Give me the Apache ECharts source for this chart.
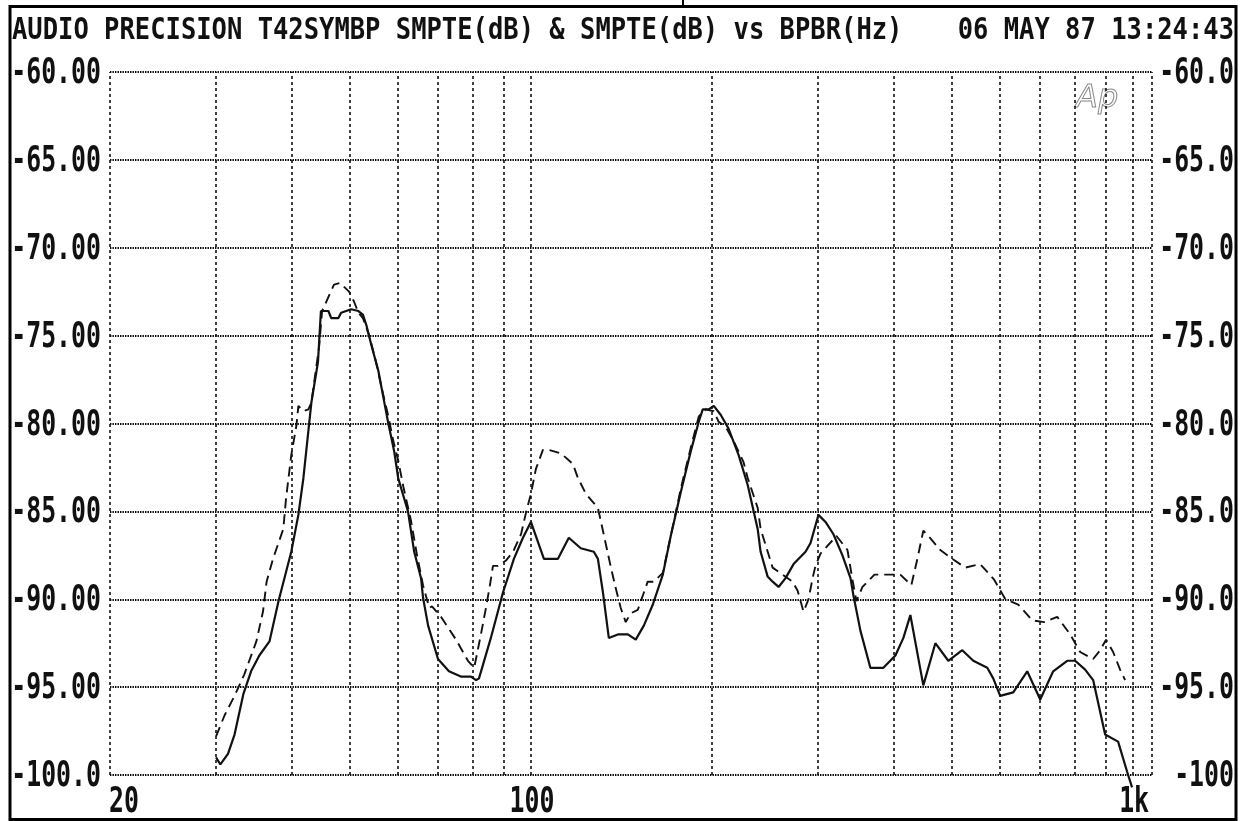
<!DOCTYPE html>
<html><head><meta charset="utf-8">
<script src="https://cdn.jsdelivr.net/npm/echarts@6/dist/echarts.min.js"></script>
<style>html,body{margin:0;padding:0;background:#fff;}#c{width:1244px;height:821px;}</style>
</head><body><div id="c"></div>
<script>
// ---- texts ----
const titleText = 'AUDIO PRECISION T42SYMBP SMPTE(dB) & SMPTE(dB) vs BPBR(Hz)';
const dateText = '06 MAY 87 13:24:43';
const logoText = 'Ap';

// ---- axes ----
const xMinHz = 20;
const xMaxHz = 1075;
const yMin = -100, yMax = -60, yStep = 5;
const yTicks = [-60, -65, -70, -75, -80, -85, -90, -95, -100];
const yLabelsLeft = ['-60.00', '-65.00', '-70.00', '-75.00', '-80.00', '-85.00', '-90.00', '-95.00', '-100.0'];
const yLabelsRight = ['-60.0', '-65.0', '-70.0', '-75.0', '-80.0', '-85.0', '-90.0', '-95.0', '-100'];
const xGridHz = [20, 30, 40, 50, 60, 70, 80, 90, 100, 200, 300, 400, 500, 600, 700, 800, 900, 1000, 1075];
const xTickHz = [20, 100, 1000];
const xTickLabels = ['20', '100', '1k'];

// ---- solid trace ----
const solidHz = [30, 30.5, 31.4, 32.2, 33.3, 34.3, 35.4, 36.8, 38.1, 40.0,
  41.1, 41.9, 43.2, 44.3, 44.8, 46.1, 46.6, 47.9, 48.4, 50.3,
  51.7, 52.6, 53.3, 54.3, 55.8, 56.8, 57.9, 59.3, 60.2, 60.9,
  62.5, 64.0, 65.7, 66.2, 67.5, 70.1, 73.1, 76.5, 79.5, 81.1,
  82.0, 85.8, 89.9, 93.7, 97.0, 100, 101.9, 105.1, 110.9, 115.6,
  121.0, 127.2, 129.2, 131.7, 134.7, 139.4, 144.9, 149.3, 154.0, 159.4,
  165.6, 170.7, 177.4, 184.2, 190.0, 192.9, 197.4, 201.2, 206.6, 213.0,
  221.3, 229.1, 238.0, 240.7, 247.2, 252.0, 257.8, 264.8, 273.0, 285.8,
  291.3, 300.3, 308.5, 318.0, 329.1, 339.4, 343.3, 352.6, 366.2, 384.9,
  403.0, 415.5, 426.7, 448.4, 469.5, 493.3, 520.4, 542.8, 572.6, 585.8,
  601.6, 632.4, 667.1, 701.1, 736.7, 777.2, 801.3, 832.5, 858.4, 898.6,
  944.3, 977.2, 996];
const solidDb = [-99.0, -99.4, -98.8, -97.7, -95.4, -94.1, -93.2, -92.4, -90.1, -87.3,
  -85.2, -83.1, -78.8, -76.5, -73.6, -73.6, -74.0, -74.0, -73.7, -73.5,
  -73.6, -73.8, -74.4, -75.5, -77.0, -78.4, -79.9, -81.6, -83.1, -83.7,
  -85.0, -87.3, -88.8, -89.9, -91.5, -93.4, -94.1, -94.4, -94.4, -94.6,
  -94.5, -92.2, -89.6, -87.7, -86.5, -85.6, -86.4, -87.7, -87.7, -86.5,
  -87.1, -87.3, -87.7, -89.6, -92.2, -92.0, -92.0, -92.3, -91.5, -90.3,
  -88.6, -86.4, -83.9, -81.6, -79.9, -79.2, -79.2, -79.0, -79.5, -80.3,
  -81.8, -83.5, -86.0, -87.3, -88.7, -89.0, -89.3, -88.8, -88.0, -87.3,
  -86.8, -85.2, -85.6, -86.3, -87.5, -88.8, -89.8, -91.8, -93.9, -93.9,
  -93.2, -92.2, -90.9, -94.9, -92.5, -93.5, -92.9, -93.5, -93.9, -94.5,
  -95.5, -95.3, -94.1, -95.7, -94.1, -93.5, -93.5, -94.0, -94.6, -97.7,
  -98.1, -99.8, -100.7];

// ---- dashed trace ----
const dashHz = [30, 31.0, 32.2, 33.4, 35.0, 35.9, 36.4, 37.3, 38.8, 39.2,
  40.0, 40.8, 41.1, 41.9, 42.7, 43.2, 44.5, 45.0, 47.1, 48.2,
  49.9, 50.9, 51.7, 52.6, 53.9, 55.3, 56.8, 57.9, 59.0, 60.2,
  61.4, 63.2, 64.7, 66.2, 67.8, 68.5, 70.9, 75.1, 78.6, 80.5,
  82.6, 84.2, 85.5, 86.5, 88.2, 90.9, 93.4, 96.3, 98.1, 100,
  101.9, 104.7, 107.1, 112.2, 117.4, 119.7, 123.4, 129.2, 131.7, 135.8,
  138.4, 141.0, 143.7, 146.5, 150.5, 156.3, 160.0, 165.6, 170.7, 177.4,
  184.2, 190.0, 195.1, 201.2, 205.0, 210.6, 217.1, 225.5, 229.1, 238.0,
  240.7, 252.0, 272.0, 277.2, 283.6, 289.1, 293.6, 296.9, 302.6, 321.7,
  335.5, 342.0, 347.2, 355.3, 371.9, 390.8, 410.7, 428.3, 438.3, 448.4,
  457.1, 478.5, 500.9, 526.4, 557.4, 588.3, 613.5, 644.6, 680.0, 711.8,
  748.2, 786.2, 816.8, 858.4, 881.6, 901.9, 926.5, 951.5, 969.9];
const dashDb = [-97.8, -96.6, -95.5, -94.3, -92.4, -90.7, -89.0, -87.7, -86.0, -84.3,
  -81.8, -80.1, -79.0, -79.3, -79.2, -78.8, -75.6, -73.6, -72.1, -72.0,
  -72.5, -73.1, -73.7, -74.0, -75.0, -76.5, -78.3, -79.5, -80.9, -82.1,
  -83.6, -85.5, -87.5, -89.2, -90.5, -90.4, -91.0, -92.3, -93.5, -93.9,
  -92.0, -90.5, -89.2, -88.1, -88.1, -87.8, -87.3, -86.3, -85.1, -84.0,
  -82.6, -81.5, -81.5, -81.7, -82.3, -83.1, -84.0, -84.8, -86.1, -88.2,
  -89.4, -90.5, -91.3, -90.8, -90.6, -89.0, -89.0, -88.5, -86.4, -83.7,
  -81.4, -79.6, -79.2, -79.3, -79.9, -80.2, -81.0, -82.2, -83.1, -84.8,
  -86.0, -88.2, -89.0, -89.5, -90.7, -90.0, -88.8, -88.1, -87.4, -86.4,
  -87.2, -88.9, -90.1, -89.3, -88.6, -88.6, -88.6, -89.2, -87.7, -86.1,
  -86.4, -87.2, -87.7, -88.2, -88.0, -88.9, -90.0, -90.3, -91.2, -91.3,
  -91.0, -92.0, -93.0, -93.4, -92.9, -92.3, -93.0, -94.0, -94.6];

const INK = '#111';
const MONO = "'DejaVu Sans Mono', 'Liberation Mono', monospace";

const chart = echarts.init(document.getElementById('c'), null, { renderer: 'canvas' });

const pairs = (xs, ys) => xs.map((x, i) => [x, ys[i]]);

const option = {
  animation: false,
  backgroundColor: '#fff',
  grid: { left: 110, right: 92, top: 72, bottom: 46, containLabel: false },
  xAxis: {
    type: 'log', logBase: 10, min: xMinHz, max: xMaxHz,
    axisLine: { show: false }, axisTick: { show: false },
    axisLabel: { show: false }, splitLine: { show: false }
  },
  yAxis: {
    type: 'value', min: yMin, max: yMax, interval: yStep,
    axisLine: { show: false }, axisTick: { show: false }, axisLabel: { show: false },
    splitLine: { show: true, lineStyle: { color: '#000', width: 2, type: [1.4, 1.1] } }
  },
  series: [
    {
      name: 'SMPTE A', type: 'line', data: pairs(solidHz, solidDb),
      showSymbol: false, symbol: 'none', clip: false, z: 3,
      lineStyle: { color: INK, width: 2.2 },
      markLine: {
        silent: true, symbol: ['none', 'none'], z: 1,
        label: { show: false },
        lineStyle: { color: '#111', width: 1.6, type: [3, 3] },
        data: xGridHz.map(v => ({ xAxis: v }))
      }
    },
    {
      name: 'SMPTE B', type: 'line', data: pairs(dashHz, dashDb),
      showSymbol: false, symbol: 'none', z: 3,
      lineStyle: { color: INK, width: 1.9, type: [10, 6] }
    }
  ]
};
chart.setOption(option);

// ---- labels positioned through the chart's own axes ----
function px(x, y) { return chart.convertToPixel({ gridIndex: 0 }, [x, y]); }
function monoText(text, x, y, size, sx, align) {
  return {
    type: 'text', x: x, y: y, scaleX: sx, silent: true,
    style: {
      text: text, x: 0, y: 0, fill: INK,
      font: 'bold ' + size + 'px ' + MONO,
      align: align, textAlign: align, verticalAlign: 'middle', textVerticalAlign: 'middle'
    }
  };
}

const gfx = [];
// outer frame
gfx.push({ type: 'rect', silent: true, shape: { x: 10, y: 6.5, width: 1226, height: 813 },
  style: { fill: 'none', stroke: '#000', lineWidth: 3 } });
gfx.push({ type: 'line', silent: true, shape: { x1: 683, y1: 0, x2: 683, y2: 6 },
  style: { stroke: '#000', lineWidth: 2 } });
// header
gfx.push(monoText(titleText, 12, 31, 30, 0.85, 'left'));
gfx.push(monoText(dateText, 1234, 31, 30, 0.85, 'right'));

const right = px(xMaxHz, yMax)[0];
const left = px(xMinHz, yMax)[0];
yTicks.forEach((v, i) => {
  const y = px(xMinHz, v)[1];
  gfx.push(monoText(yLabelsLeft[i], left - 9, y + 2, 35, 0.71, 'right'));
  gfx.push(monoText(yLabelsRight[i], right + 82, y + 2, 35, 0.71, 'right'));
});
const yb = px(xMinHz, yMin)[1];
xTickHz.forEach((f, i) => {
  const x = px(f, yMin)[0];
  gfx.push(monoText(xTickLabels[i], i === 0 ? x - 1 : x + 1, yb + 28, 35, 0.71, i === 0 ? 'left' : 'center'));
});
// logo
gfx.push({ type: 'text', x: 1076, y: 99, silent: true,
  style: { text: logoText, x: 0, y: 0, fill: 'transparent', stroke: '#888', lineWidth: 1,
    font: 'italic 32px "DejaVu Sans", sans-serif', align: 'left', textAlign: 'left',
    verticalAlign: 'middle', textVerticalAlign: 'middle' } });

chart.setOption({ graphic: gfx });
</script>
</body></html>
